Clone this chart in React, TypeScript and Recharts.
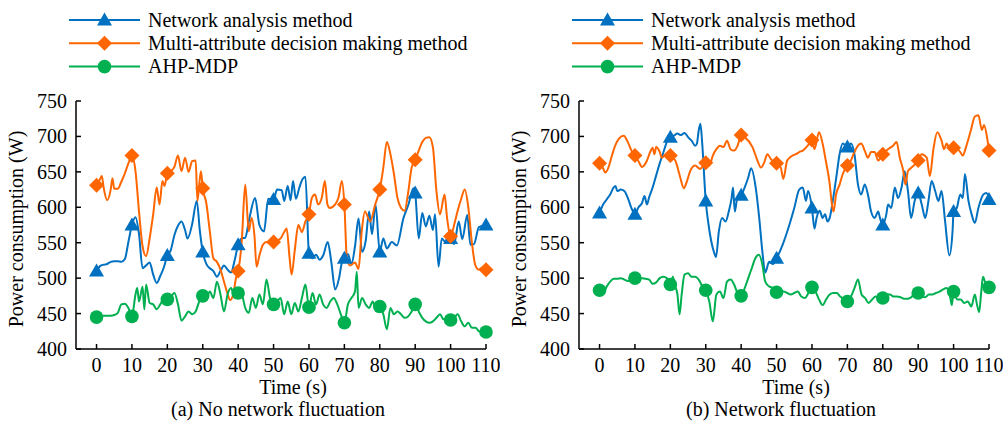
import React from "react";
import { LineChart, Line, XAxis, YAxis } from "recharts";

type Pt = [number, number];

const timeTicks = [0, 10, 20, 30, 40, 50, 60, 70, 80, 90, 100, 110];
const powerTicks = [400, 450, 500, 550, 600, 650, 700, 750];
const seriesNames = ["Network analysis method", "Multi-attribute decision making method", "AHP-MDP"];

// (a) no network fluctuation
const leftNetwork: Pt[] = [
  [0, 510], [1, 517], [2, 519], [3, 520], [4, 523], [5, 524], [6, 524], [7, 523], [8, 527], [9, 551],
  [10, 575], [11, 586], [12, 562], [13, 514], [14, 518], [15, 522], [16, 505], [17, 493], [18, 503], [19, 515],
  [20, 532], [21, 540], [22, 561], [23, 574], [24, 580], [25, 568], [25.7, 556], [27, 576], [28.3, 609], [29.2, 566],
  [30, 537], [31, 520], [32, 514], [33, 510], [34, 502], [35, 510], [36, 518], [37, 512], [38, 508], [39, 525],
  [40, 547], [41, 556], [42, 557], [43, 580], [44.8, 613], [46, 575], [47.3, 566], [48.5, 612], [50, 611],
  [51, 625], [52.3, 624], [53, 609], [54, 630], [54.8, 610], [55.5, 637], [56.3, 612], [57.3, 628], [58.2, 640], [59, 643],
  [60, 535], [61, 528], [62, 533], [63, 526], [64, 532], [65.3, 551], [66.3, 523], [67.4, 484], [68.5, 500], [69.3, 522],
  [70, 528], [71, 534], [72, 520], [73, 545], [74, 584], [75, 537], [76, 552], [77, 594], [77.8, 562], [78.8, 604],
  [80, 537], [81, 556], [82, 542], [83.4, 551], [84.8, 546], [86.7, 585], [88.1, 604], [89.5, 627],
  [90, 620], [91, 556], [92, 592], [93, 573], [94, 588], [95, 568], [95.6, 590], [96.6, 516], [97.5, 556], [98.5, 551], [99.4, 560],
  [100, 556], [101, 548], [102.3, 580], [103.3, 555], [104.7, 589], [105.6, 547], [106.6, 548], [108, 572], [110, 575],
];
const leftMultiAttr: Pt[] = [
  [0, 631], [1, 640], [1.5, 644], [2, 628], [3, 610], [4, 625], [4.5, 641], [5, 626], [6, 626], [7, 636], [8, 648], [9, 662],
  [10, 673], [11, 651], [12, 594], [13, 545], [14, 531], [15, 556], [16, 590], [17, 628], [17.8, 604], [18.6, 637], [19.2, 630],
  [20, 648], [21, 651], [22, 657], [23, 673], [24, 651], [25, 670], [26, 650], [27, 665], [28, 666], [28.5, 609], [29, 632], [29.5, 651],
  [30, 627], [31, 606], [32, 566], [33, 528], [34, 523], [35, 512], [36, 495], [37, 478], [37.7, 469], [38.6, 477], [39.5, 503],
  [40, 510], [41, 551], [42, 632], [43, 566], [43.8, 585], [44.6, 560], [45.2, 516], [46, 532], [47, 547], [48, 551], [49, 549],
  [50, 551], [51, 553], [52, 556], [53, 565], [53.7, 570], [54.5, 530], [55.1, 505], [56, 540], [57, 575], [58, 565], [59, 580],
  [60, 590], [60.8, 613], [61.7, 618], [62.6, 604], [63.6, 613], [64.5, 637], [65.2, 604], [65.9, 599], [67.4, 604], [68.3, 613], [69.3, 637],
  [70, 604], [70.7, 528], [71.6, 518], [73, 522], [74, 513], [74.9, 566], [75.8, 594], [77.3, 580], [78.7, 604],
  [80, 625], [81, 656], [82, 692], [83, 675], [84, 647], [85, 613], [86, 599], [87, 595], [88, 620], [89, 656],
  [90, 667], [91, 680], [92, 692], [93, 698], [94, 699], [95, 685], [96, 623], [97, 590], [98.3, 618], [99, 585],
  [100, 559], [101, 575], [102, 595], [103, 612], [104, 625], [105, 600], [106, 551], [107, 518], [108, 512], [109, 515], [110, 512],
];
const leftAhpMdp: Pt[] = [
  [0, 445], [1, 446], [2, 447], [3, 447], [4, 447], [5, 448], [6, 451], [7, 463], [8, 464], [9, 458],
  [10, 446], [11, 477], [11.5, 486], [12, 467], [13, 488], [13.5, 456], [14, 491], [15, 465], [16, 463], [17, 456], [18, 463], [19, 470],
  [20, 470], [21, 474], [22, 479], [23, 463], [24, 440], [25, 446], [26, 453], [27, 449], [28, 453], [29, 467],
  [30, 475], [31, 472], [32, 481], [33, 472], [34, 495], [35, 477], [36, 453], [37, 477], [38, 486], [39, 472],
  [40, 479], [41, 477], [42, 458], [43, 451], [44, 472], [45, 458], [46, 477], [47, 463], [48, 498], [49, 472],
  [50, 463], [51, 467], [52, 472], [53, 449], [54, 467], [55, 449], [56, 465], [57, 453], [58, 472], [59, 491],
  [60, 459], [61, 479], [62, 463], [63, 477], [64, 463], [65, 458], [66, 467], [67, 472], [68, 463], [69, 449],
  [70, 437], [71, 463], [72, 472], [73, 481], [73.5, 509], [74, 458], [75, 472], [76, 463], [77, 458], [78, 467], [79, 453],
  [80, 460], [81, 449], [82, 428], [83, 458], [84, 449], [85, 453], [86, 449], [87, 444], [88, 446], [89, 453],
  [90, 463], [91, 453], [92, 444], [93, 439], [94, 437], [95, 439], [96, 444], [97, 449], [98, 442], [99, 444],
  [100, 441], [101, 444], [102, 449], [103, 439], [104, 432], [105, 437], [106, 430], [107, 430], [108, 425], [109, 423], [110, 424],
];

// (b) network fluctuation
const rightNetwork: Pt[] = [
  [0, 592], [1, 604], [2, 611], [3, 618], [4, 628], [4.5, 630], [5, 623], [6, 625], [7, 623], [8, 613], [9, 599],
  [10, 590], [11, 600], [12, 606], [12.7, 616], [13.4, 604], [14, 614], [15, 628], [16, 645], [17, 662], [18, 677], [19, 692],
  [20, 699], [21, 701], [22, 704], [23, 702], [24, 705], [25, 699], [26, 694], [27, 687], [27.5, 690], [28, 708], [28.5, 718], [29, 690],
  [30, 609], [30.8, 575], [32.3, 537], [32.9, 530], [33.7, 566], [34.6, 585], [35.6, 580], [36.5, 594], [37.3, 613], [37.7, 628], [38.2, 594], [38.9, 613],
  [40, 617], [41, 628], [42, 642], [42.8, 655], [44.1, 628], [45.1, 585], [46, 537], [46.8, 508], [47.9, 523], [49, 520],
  [50, 528], [51.7, 547], [53.6, 575], [55, 599], [56.4, 625], [57.4, 628], [58.3, 609], [58.9, 623],
  [60, 599], [60.7, 570], [61.3, 585], [62.2, 595], [63, 585], [63.7, 590], [64.4, 580], [65, 585], [66, 613], [67, 647], [67.8, 675], [68.7, 690],
  [70, 685], [71, 690], [72, 675], [73, 632], [73.9, 618], [74.9, 632], [75.8, 618], [76.7, 594], [77.7, 585], [78.7, 594], [79.2, 585],
  [80, 575], [81, 590], [81.5, 604], [82.4, 599], [83.4, 628], [84.3, 613], [85.3, 628], [86.2, 651], [87.1, 623], [88, 585], [89, 609],
  [90, 620], [91, 604], [92, 585], [92.9, 609], [93.8, 637], [94.8, 623], [95.7, 609], [96.6, 623], [97.6, 580], [98.8, 532], [99.7, 566],
  [100, 594], [100.9, 599], [101.9, 618], [102.6, 613], [103.2, 647], [104.2, 609], [105.1, 590], [106, 578], [107, 599], [108.4, 618], [109.3, 620], [110, 611],
];
const rightMultiAttr: Pt[] = [
  [0, 662], [1, 655], [1.6, 649], [2.5, 656], [3.5, 673], [4.5, 688], [5.5, 697], [6.8, 701], [8, 692], [9, 680],
  [10, 673], [11, 665], [12, 657], [13.4, 666], [14.3, 678], [15, 684], [15.5, 675], [16, 685], [17, 678], [17.6, 670], [19, 675],
  [20, 673], [21.4, 666], [22.8, 642], [23.8, 627], [24.7, 637], [25.6, 651], [27, 659], [28.4, 654], [29, 657],
  [30, 663], [31, 659], [32, 673], [33, 682], [34, 687], [35, 685], [36, 694], [37, 682], [38, 680], [39, 687],
  [40, 702], [41, 699], [43.2, 685], [44.6, 666], [45.6, 656], [46.5, 663], [47.4, 675], [48.4, 668],
  [50, 662], [51.2, 656], [51.9, 640], [53, 666], [54.5, 673], [55.5, 675], [56.4, 678], [57.4, 680], [58.8, 687],
  [60, 695], [60.7, 682], [62, 706], [63, 690], [63.9, 666], [64.9, 637], [65.8, 599], [66.1, 594], [66.8, 618], [67.8, 632], [68.7, 647],
  [70, 659], [71, 666], [72, 678], [73, 687], [73.9, 690], [74.9, 680], [75.8, 670], [76.7, 678], [77.7, 678], [78.7, 666],
  [80, 675], [81.5, 682], [82.9, 687], [83.9, 692], [84.8, 670], [85.8, 651], [86.4, 632], [87.1, 651], [88.1, 656],
  [90, 666], [91, 675], [92.4, 670], [93.3, 644], [94.3, 682], [95.4, 706], [96.6, 694], [97.3, 682], [98, 690], [99, 682],
  [100, 684], [101.6, 680], [102.6, 673], [103.5, 685], [104.9, 709], [106, 728], [107, 730], [108, 709], [108.6, 716], [109.5, 697], [110, 680],
];
const rightAhpMdp: Pt[] = [
  [0, 483], [1, 479], [2, 488], [3, 495], [4, 499], [5, 499], [6, 500], [7, 498], [8, 496], [9, 498],
  [10, 500], [11, 500], [12, 500], [13, 499], [14, 498], [15, 492], [16, 494], [17, 500], [18, 502], [19, 500],
  [20, 491], [20.7, 502], [21.3, 490], [22, 477], [22.6, 449], [23.2, 477], [24, 505], [25, 507], [26, 502], [27, 502], [28, 498], [29, 489],
  [30, 483], [31, 467], [32, 439], [33, 477], [34, 481], [35, 472], [36, 495], [37, 498], [38, 491], [39, 479],
  [40, 475], [41, 486], [42, 500], [43, 514], [44, 528], [45, 533], [46, 519], [46.8, 495], [48, 488], [49, 486],
  [50, 480], [51, 481], [52, 481], [53, 479], [54, 477], [55, 479], [56, 481], [57, 474], [58, 472], [59, 479],
  [60, 487], [61, 481], [62, 470], [63, 462], [64, 470], [65, 477], [66, 479], [67, 479], [68, 474], [69, 470],
  [70, 467], [71, 474], [72, 486], [73, 498], [74, 477], [75, 472], [76, 465], [77, 470], [78, 474], [79, 472],
  [80, 472], [81, 477], [82, 477], [83, 474], [84, 474], [85, 473], [86, 471], [87, 471], [88, 473], [89, 477],
  [90, 479], [91, 474], [92, 473], [93, 477], [94, 477], [95, 479], [96, 481], [97, 484], [98, 486], [99, 474], [99.5, 462],
  [100, 481], [101, 470], [102, 470], [103, 465], [104, 467], [105, 460], [106, 477], [106.6, 463], [107.2, 452], [107.8, 480], [108.3, 502], [109, 493], [110, 487],
];

const BLUE = "#0070C0";
const ORANGE = "#FF6600";
const GREEN = "#00B050";
const FONT = "'Liberation Serif', 'Times New Roman', serif";

const rows = (pts: Pt[]) => pts.map(([t, v]) => ({ t, v }));

function marker(kind: string, cx: number, cy: number, color: string, key?: string) {
  if (kind === "triangle") {
    return <polygon key={key} points={`${cx},${cy - 7.5} ${cx - 7.5},${cy + 5.5} ${cx + 7.5},${cy + 5.5}`} fill={color} />;
  }
  if (kind === "diamond") {
    return <polygon key={key} points={`${cx},${cy - 7.5} ${cx + 7.5},${cy} ${cx},${cy + 7.5} ${cx - 7.5},${cy}`} fill={color} />;
  }
  return <circle key={key} cx={cx} cy={cy} r={6.8} fill={color} />;
}

const dotEvery10 = (kind: string, color: string) => (props: any) => {
  const { cx, cy, payload, index } = props;
  if (payload.t % 10 !== 0) return <g key={`n${index}`} />;
  return marker(kind, cx, cy, color, `m${index}`);
};

const TimeTick = (props: any) => {
  const { x, y, payload } = props;
  return (
    <g>
      <line x1={x} x2={x} y1={y} y2={y - 5} stroke="#000" strokeWidth={1.5} />
      <text x={x} y={y + 23} textAnchor="middle" fontSize={20} fontFamily={FONT} fill="#000">
        {payload.value}
      </text>
    </g>
  );
};

const PowerTick = (props: any) => {
  const { x, y, payload } = props;
  return (
    <g>
      <line x1={x} x2={x + 5} y1={y} y2={y} stroke="#000" strokeWidth={1.5} />
      <text x={x - 9} y={y + 7} textAnchor="end" fontSize={20} fontFamily={FONT} fill="#000">
        {payload.value}
      </text>
    </g>
  );
};

function Panel({ offset, title, net, multi, ahp }: { offset: number; title: string; net: Pt[]; multi: Pt[]; ahp: Pt[] }) {
  const legend = [
    { name: seriesNames[0], color: BLUE, kind: "triangle" },
    { name: seriesNames[1], color: ORANGE, kind: "diamond" },
    { name: seriesNames[2], color: GREEN, kind: "circle" },
  ];
  return (
    <div style={{ position: "absolute", left: offset, top: 0, width: 500, height: 426 }}>
      <LineChart width={500} height={426} margin={{ top: 101, right: 14, bottom: 47, left: 16 }}>
        <XAxis
          type="number"
          dataKey="t"
          domain={[-5.8, 110]}
          ticks={timeTicks}
          interval={0}
          height={30}
          tickLine={false}
          tickSize={0}
          tickMargin={0}
          axisLine={{ stroke: "#000", strokeWidth: 1.5 }}
          tick={<TimeTick />}
        />
        <YAxis
          type="number"
          domain={[400, 750]}
          ticks={powerTicks}
          interval={0}
          width={60}
          tickLine={false}
          tickSize={0}
          tickMargin={0}
          axisLine={{ stroke: "#000", strokeWidth: 1.5 }}
          tick={<PowerTick />}
        />
        <Line data={rows(net)} dataKey="v" type="monotone" stroke={BLUE} strokeWidth={2} dot={dotEvery10("triangle", BLUE)} isAnimationActive={false} />
        <Line data={rows(multi)} dataKey="v" type="monotone" stroke={ORANGE} strokeWidth={2} dot={dotEvery10("diamond", ORANGE)} isAnimationActive={false} />
        <Line data={rows(ahp)} dataKey="v" type="monotone" stroke={GREEN} strokeWidth={2} dot={dotEvery10("circle", GREEN)} isAnimationActive={false} />
      </LineChart>
      <svg width={500} height={426} style={{ position: "absolute", left: 0, top: 0, pointerEvents: "none" }}>
        {legend.map((l, i) => {
          const y = 20 + i * 23.3;
          return (
            <g key={l.name}>
              <line x1={69} x2={140} y1={y} y2={y} stroke={l.color} strokeWidth={2} />
              {marker(l.kind, 104.5, y, l.color)}
              <text x={148} y={y + 6.5} fontSize={20} fontFamily={FONT} fill="#000">
                {l.name}
              </text>
            </g>
          );
        })}
        <text x={23} y={229} transform="rotate(-90, 23, 229)" textAnchor="middle" fontSize={20} fontFamily={FONT} fill="#000">
          Power consumption (W)
        </text>
        <text x={293} y={394} textAnchor="middle" fontSize={20} fontFamily={FONT} fill="#000">
          Time (s)
        </text>
        <text x={278} y={416} textAnchor="middle" fontSize={20} fontFamily={FONT} fill="#000">
          {title}
        </text>
      </svg>
    </div>
  );
}

export default function App() {
  return (
    <div style={{ position: "absolute", left: 0, top: 0, width: 1006, height: 426, background: "#fff" }}>
      <Panel offset={0} title="(a) No network fluctuation" net={leftNetwork} multi={leftMultiAttr} ahp={leftAhpMdp} />
      <Panel offset={503} title="(b) Network fluctuation" net={rightNetwork} multi={rightMultiAttr} ahp={rightAhpMdp} />
    </div>
  );
}
